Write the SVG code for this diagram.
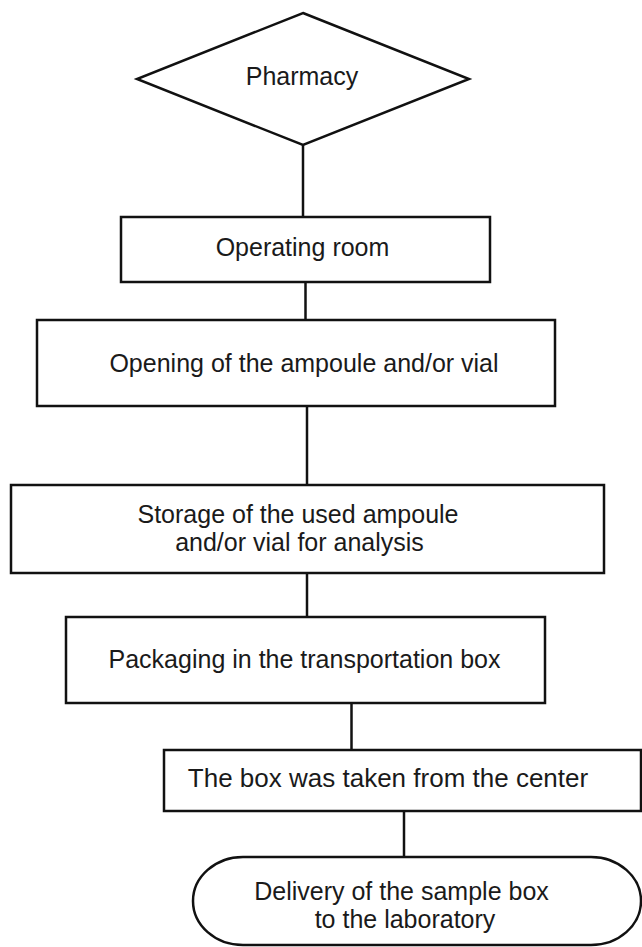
<svg xmlns="http://www.w3.org/2000/svg" width="642" height="947" viewBox="0 0 642 947">
<style>
.s{fill:#fff;stroke:#111;stroke-width:2.5;stroke-linejoin:miter}
.c{fill:none;stroke:#111;stroke-width:2.5}
text{font-family:"Liberation Sans",Arial,sans-serif;font-size:25px;fill:#1a1a1a;text-anchor:middle}
</style>
<rect width="642" height="947" fill="#fff"/>
<g id="connectors">
<line class="c" x1="303" y1="145" x2="303" y2="217"/>
<line class="c" x1="305.5" y1="282" x2="305.5" y2="320"/>
<line class="c" x1="307" y1="406" x2="307" y2="485"/>
<line class="c" x1="307" y1="573" x2="307" y2="617"/>
<line class="c" x1="351.5" y1="703" x2="351.5" y2="750"/>
<line class="c" x1="404" y1="811" x2="404" y2="857"/>
</g>
<g id="pharmacy">
<polygon class="s" points="303,13 469,79 303,145 137,79"/>
<text x="302" y="85">Pharmacy</text>
</g>
<g id="operating-room">
<rect class="s" x="121" y="217" width="369" height="65"/>
<text x="302.5" y="256">Operating room</text>
</g>
<g id="opening">
<rect class="s" x="37" y="320" width="518" height="86"/>
<text x="304" y="372">Opening of the ampoule and/or vial</text>
</g>
<g id="storage">
<rect class="s" x="11" y="485" width="593" height="88"/>
<text x="298" y="523">Storage of the used ampoule</text>
<text x="299.5" y="551">and/or vial for analysis</text>
</g>
<g id="packaging">
<rect class="s" x="66" y="617" width="479" height="86"/>
<text x="304.5" y="668">Packaging in the transportation box</text>
</g>
<g id="box-taken">
<rect class="s" x="164" y="750" width="477" height="61"/>
<text x="388" y="787" style="font-size:26px">The box was taken from the center</text>
</g>
<g id="delivery">
<path class="s" d="M243,857 H591 A50,44 0 0 1 591,945 H243 A50,44 0 0 1 243,857 Z"/>
<text x="401.5" y="900">Delivery of the sample box</text>
<text x="405" y="928">to the laboratory</text>
</g>
</svg>
